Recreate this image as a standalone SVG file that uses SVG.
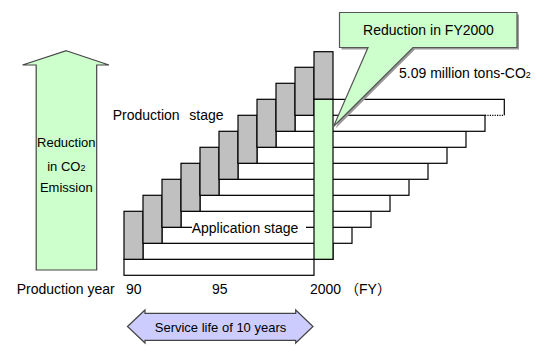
<svg xmlns="http://www.w3.org/2000/svg" width="550" height="360" viewBox="0 0 550 360">
<style>
text{font-family:"Liberation Sans","Noto Sans CJK JP",sans-serif;fill:#000}
.t14{font-size:14px}
.t13{font-size:13px}
.bar{fill:#fff;stroke:#000;stroke-width:1.2}
.prod{fill:#c0c0c0;stroke:#000;stroke-width:1.2}
.grn{fill:#ccffcc;stroke:#000;stroke-width:1.2}
.ln{fill:none;stroke:#000;stroke-width:1.2}
.sub{font-size:9px}
</style>
<rect width="550" height="360" fill="#fff"/>

<g id="co2-arrow">
<path d="M66.3,50.7 L109,65 H96.7 V270 H36.2 V65 H22.5 Z" fill="#ccffcc" stroke="#444" stroke-width="1.2"/>
<text class="t13" x="66.3" y="146.7" text-anchor="middle">Reduction</text>
<text class="t13" x="66.3" y="170.5" text-anchor="middle">in CO<tspan class="sub">2</tspan></text>
<text class="t13" x="66.3" y="191.7" text-anchor="middle">Emission</text>
</g>

<g id="application-bars">
<rect class="bar" x="124" y="259.3" width="190" height="16"/>
<rect class="bar" x="143" y="243.3" width="190" height="16"/>
<rect class="bar" x="162" y="227.3" width="190" height="16"/>
<rect class="bar" x="181" y="211.3" width="190" height="16"/>
<rect class="bar" x="200" y="195.3" width="190" height="16"/>
<rect class="bar" x="219" y="179.3" width="190" height="16"/>
<rect class="bar" x="238" y="163.3" width="190" height="16"/>
<rect class="bar" x="257" y="147.3" width="190" height="16"/>
<rect class="bar" x="276" y="131.3" width="190" height="16"/>
<rect class="bar" x="295" y="115.3" width="190" height="16"/>
<path class="ln" d="M314,115.3 V99.3 H504.3 V115.3" fill="#fff"/>
<path d="M485,115.3 H504.3" stroke="#000" stroke-width="1.2" stroke-dasharray="1.2,1.2"/>
</g>

<g id="production-blocks">
<rect class="prod" x="124" y="211.3" width="19" height="48"/>
<rect class="prod" x="143" y="195.3" width="19" height="48"/>
<rect class="prod" x="162" y="179.3" width="19" height="48"/>
<rect class="prod" x="181" y="163.3" width="19" height="48"/>
<rect class="prod" x="200" y="147.3" width="19" height="48"/>
<rect class="prod" x="219" y="131.3" width="19" height="48"/>
<rect class="prod" x="238" y="115.3" width="19" height="48"/>
<rect class="prod" x="257" y="99.3" width="19" height="48"/>
<rect class="prod" x="276" y="83.3" width="19" height="48"/>
<rect class="prod" x="295" y="67.3" width="19" height="48"/>
<rect class="prod" x="314" y="51.7" width="19" height="47.6"/>
</g>

<g id="fy2000-column">
<rect class="grn" x="314" y="99.3" width="19" height="160"/>
</g>

<g id="labels">
<text class="t14" x="112.7" y="119.5">Production<tspan x="189.3">stage</tspan></text>
<rect x="192" y="220" width="114" height="13" fill="#fff"/>
<text class="t14" x="245" y="233" text-anchor="middle">Application stage</text>
<text class="t14" x="16.7" y="294">Production year</text>
<text class="t14" x="126" y="294">90</text>
<text class="t14" x="212" y="294">95</text>
<text class="t14" x="310" y="294">2000 （FY）</text>
<text class="t14" x="399" y="78.3">5.09 million tons-CO<tspan class="sub" font-size="10px">2</tspan></text>
</g>

<g id="callout">
<path d="M341.5,14.5 H519 V49.5 H415 L335.5,128.5 L370,49.5 H341.5 Z" fill="#999" stroke="none"/>
<path d="M339.5,12.5 H517 V47.5 H413 L333.5,126.5 L368,47.5 H339.5 Z" fill="#ccffcc" stroke="#555" stroke-width="1.2"/>
<text class="t14" x="428.5" y="35" text-anchor="middle">Reduction in FY2000</text>
</g>

<g id="service-life-arrow">
<path d="M127.5,326.5 L145,310 V313.3 H295.7 V310 L313,326.5 L295.7,343 V340.3 H145 V343 Z" fill="#ccccff" stroke="#444" stroke-width="1.2"/>
<text class="t13" x="220.5" y="331.5" text-anchor="middle">Service life of 10 years</text>
</g>
</svg>
